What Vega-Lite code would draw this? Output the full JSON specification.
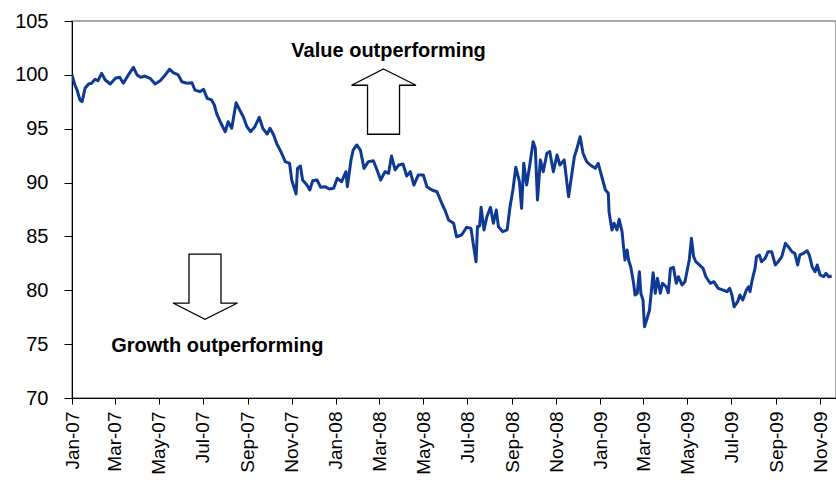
{
  "$schema": "https://vega.github.io/schema/vega-lite/v6.json",
  "width": 764,
  "height": 377,
  "autosize": {"type": "none"},
  "padding": {"left": 72, "top": 21, "right": 0, "bottom": 82},
  "background": "white",
  "config": {
    "view": {"stroke": "#8c8c8c", "strokeWidth": 1.5},
    "font": "Liberation Sans",
    "axis": {"grid": false, "domainColor": "#000000", "tickColor": "#000000", "labelColor": "#000000", "labelFont": "Liberation Sans", "title": null}
  },
  "encoding": {
    "x": {
      "field": "date", "type": "temporal",
      "scale": {"type": "utc", "domain": [{"year": 2007, "month": 1, "date": 1, "utc": true}, {"year": 2009, "month": 11, "date": 23, "utc": true}]},
      "axis": {
        "values": [
          {"year": 2007, "month": 1, "date": 1, "utc": true}, {"year": 2007, "month": 3, "date": 1, "utc": true},
          {"year": 2007, "month": 5, "date": 1, "utc": true}, {"year": 2007, "month": 7, "date": 1, "utc": true},
          {"year": 2007, "month": 9, "date": 1, "utc": true}, {"year": 2007, "month": 11, "date": 1, "utc": true},
          {"year": 2008, "month": 1, "date": 1, "utc": true}, {"year": 2008, "month": 3, "date": 1, "utc": true},
          {"year": 2008, "month": 5, "date": 1, "utc": true}, {"year": 2008, "month": 7, "date": 1, "utc": true},
          {"year": 2008, "month": 9, "date": 1, "utc": true}, {"year": 2008, "month": 11, "date": 1, "utc": true},
          {"year": 2009, "month": 1, "date": 1, "utc": true}, {"year": 2009, "month": 3, "date": 1, "utc": true},
          {"year": 2009, "month": 5, "date": 1, "utc": true}, {"year": 2009, "month": 7, "date": 1, "utc": true},
          {"year": 2009, "month": 9, "date": 1, "utc": true}, {"year": 2009, "month": 11, "date": 1, "utc": true}
        ],
        "format": "%b-%y",
        "labelAngle": -90,
        "labelFontSize": 19,
        "labelPadding": 7,
        "tickSize": 6,
        "labelFlush": false,
        "labelOverlap": false,
        "labelBound": false
      }
    },
    "y": {
      "field": "value", "type": "quantitative",
      "scale": {"domain": [70, 105], "nice": false, "zero": false},
      "axis": {"values": [70, 75, 80, 85, 90, 95, 100, 105], "labelFontSize": 20, "labelPadding": 16, "tickSize": 8}
    }
  },
  "layer": [
    {
      "data": {"values": [
        {"date": "2007-01-01", "value": 100.0}, {"date": "2007-01-05", "value": 99.06}, {"date": "2007-01-08", "value": 98.59},
        {"date": "2007-01-12", "value": 97.67}, {"date": "2007-01-15", "value": 97.51}, {"date": "2007-01-19", "value": 98.75},
        {"date": "2007-01-24", "value": 99.15}, {"date": "2007-01-28", "value": 99.22}, {"date": "2007-02-02", "value": 99.59},
        {"date": "2007-02-06", "value": 99.46}, {"date": "2007-02-11", "value": 100.14}, {"date": "2007-02-16", "value": 99.52},
        {"date": "2007-02-23", "value": 99.15}, {"date": "2007-03-02", "value": 99.68}, {"date": "2007-03-08", "value": 99.77},
        {"date": "2007-03-13", "value": 99.22}, {"date": "2007-03-20", "value": 100.0}, {"date": "2007-03-27", "value": 100.70},
        {"date": "2007-04-01", "value": 99.99}, {"date": "2007-04-06", "value": 99.77}, {"date": "2007-04-12", "value": 99.89},
        {"date": "2007-04-19", "value": 99.68}, {"date": "2007-04-26", "value": 99.15}, {"date": "2007-05-03", "value": 99.46},
        {"date": "2007-05-10", "value": 99.99}, {"date": "2007-05-16", "value": 100.52}, {"date": "2007-05-21", "value": 100.20},
        {"date": "2007-05-28", "value": 99.99}, {"date": "2007-06-02", "value": 99.36}, {"date": "2007-06-09", "value": 99.22},
        {"date": "2007-06-16", "value": 99.27}, {"date": "2007-06-20", "value": 98.59}, {"date": "2007-06-27", "value": 98.44},
        {"date": "2007-07-02", "value": 98.66}, {"date": "2007-07-07", "value": 97.82}, {"date": "2007-07-13", "value": 97.67},
        {"date": "2007-07-17", "value": 97.20}, {"date": "2007-07-20", "value": 96.43}, {"date": "2007-07-25", "value": 95.65},
        {"date": "2007-08-01", "value": 94.72}, {"date": "2007-08-05", "value": 95.65}, {"date": "2007-08-10", "value": 95.04},
        {"date": "2007-08-16", "value": 97.41}, {"date": "2007-08-21", "value": 96.74}, {"date": "2007-08-26", "value": 96.11},
        {"date": "2007-08-31", "value": 95.19}, {"date": "2007-09-05", "value": 94.72}, {"date": "2007-09-11", "value": 95.19},
        {"date": "2007-09-17", "value": 96.06}, {"date": "2007-09-22", "value": 95.04}, {"date": "2007-09-28", "value": 94.51},
        {"date": "2007-10-02", "value": 95.04}, {"date": "2007-10-07", "value": 94.42}, {"date": "2007-10-11", "value": 93.65},
        {"date": "2007-10-17", "value": 92.87}, {"date": "2007-10-23", "value": 91.94}, {"date": "2007-10-29", "value": 91.79},
        {"date": "2007-11-01", "value": 90.24}, {"date": "2007-11-07", "value": 88.94}, {"date": "2007-11-09", "value": 91.32},
        {"date": "2007-11-13", "value": 91.54}, {"date": "2007-11-16", "value": 90.24}, {"date": "2007-11-22", "value": 89.77},
        {"date": "2007-11-26", "value": 89.31}, {"date": "2007-11-30", "value": 90.17}, {"date": "2007-12-06", "value": 90.24},
        {"date": "2007-12-11", "value": 89.56}, {"date": "2007-12-17", "value": 89.62}, {"date": "2007-12-23", "value": 89.40},
        {"date": "2007-12-29", "value": 89.47}, {"date": "2008-01-03", "value": 90.40}, {"date": "2008-01-09", "value": 90.08},
        {"date": "2008-01-15", "value": 91.01}, {"date": "2008-01-17", "value": 89.62}, {"date": "2008-01-22", "value": 92.10},
        {"date": "2008-01-25", "value": 93.02}, {"date": "2008-01-30", "value": 93.49}, {"date": "2008-02-04", "value": 93.02},
        {"date": "2008-02-09", "value": 91.32}, {"date": "2008-02-15", "value": 91.94}, {"date": "2008-02-22", "value": 92.03},
        {"date": "2008-02-27", "value": 91.17}, {"date": "2008-03-03", "value": 90.24}, {"date": "2008-03-09", "value": 91.01},
        {"date": "2008-03-14", "value": 90.86}, {"date": "2008-03-18", "value": 92.47}, {"date": "2008-03-23", "value": 91.17},
        {"date": "2008-03-28", "value": 91.63}, {"date": "2008-04-03", "value": 91.72}, {"date": "2008-04-08", "value": 90.61},
        {"date": "2008-04-13", "value": 91.01}, {"date": "2008-04-18", "value": 89.77}, {"date": "2008-04-24", "value": 90.70},
        {"date": "2008-05-01", "value": 90.70}, {"date": "2008-05-06", "value": 89.62}, {"date": "2008-05-13", "value": 89.31},
        {"date": "2008-05-20", "value": 89.15}, {"date": "2008-05-27", "value": 88.01}, {"date": "2008-05-31", "value": 87.45},
        {"date": "2008-06-05", "value": 86.52}, {"date": "2008-06-12", "value": 86.22}, {"date": "2008-06-16", "value": 84.97},
        {"date": "2008-06-23", "value": 85.13}, {"date": "2008-06-30", "value": 85.85}, {"date": "2008-07-06", "value": 85.75},
        {"date": "2008-07-09", "value": 84.36}, {"date": "2008-07-13", "value": 82.65}, {"date": "2008-07-15", "value": 85.90},
        {"date": "2008-07-18", "value": 85.97}, {"date": "2008-07-20", "value": 87.70}, {"date": "2008-07-24", "value": 85.60},
        {"date": "2008-07-28", "value": 86.83}, {"date": "2008-08-02", "value": 87.70}, {"date": "2008-08-06", "value": 86.22},
        {"date": "2008-08-10", "value": 87.45}, {"date": "2008-08-13", "value": 85.90}, {"date": "2008-08-19", "value": 85.44},
        {"date": "2008-08-25", "value": 85.60}, {"date": "2008-08-29", "value": 87.76}, {"date": "2008-09-02", "value": 89.31},
        {"date": "2008-09-06", "value": 91.42}, {"date": "2008-09-11", "value": 90.08}, {"date": "2008-09-14", "value": 87.61},
        {"date": "2008-09-17", "value": 91.79}, {"date": "2008-09-21", "value": 89.77}, {"date": "2008-09-25", "value": 91.47},
        {"date": "2008-09-30", "value": 93.79}, {"date": "2008-10-03", "value": 93.18}, {"date": "2008-10-06", "value": 88.38},
        {"date": "2008-10-10", "value": 92.10}, {"date": "2008-10-14", "value": 91.01}, {"date": "2008-10-19", "value": 92.72},
        {"date": "2008-10-23", "value": 92.87}, {"date": "2008-10-28", "value": 91.01}, {"date": "2008-11-02", "value": 92.56},
        {"date": "2008-11-06", "value": 91.63}, {"date": "2008-11-12", "value": 92.10}, {"date": "2008-11-18", "value": 88.69},
        {"date": "2008-11-22", "value": 90.54}, {"date": "2008-11-26", "value": 92.40}, {"date": "2008-11-29", "value": 93.02},
        {"date": "2008-12-04", "value": 94.26}, {"date": "2008-12-08", "value": 92.72}, {"date": "2008-12-13", "value": 91.94},
        {"date": "2008-12-18", "value": 91.63}, {"date": "2008-12-25", "value": 91.32}, {"date": "2008-12-29", "value": 91.79},
        {"date": "2009-01-03", "value": 90.54}, {"date": "2009-01-08", "value": 89.31}, {"date": "2009-01-12", "value": 89.00},
        {"date": "2009-01-13", "value": 87.30}, {"date": "2009-01-17", "value": 85.60}, {"date": "2009-01-20", "value": 86.22},
        {"date": "2009-01-24", "value": 85.60}, {"date": "2009-01-27", "value": 86.59}, {"date": "2009-01-31", "value": 85.44},
        {"date": "2009-02-02", "value": 84.05}, {"date": "2009-02-04", "value": 82.81}, {"date": "2009-02-07", "value": 83.74},
        {"date": "2009-02-09", "value": 82.81}, {"date": "2009-02-12", "value": 82.19}, {"date": "2009-02-16", "value": 80.65},
        {"date": "2009-02-18", "value": 79.56}, {"date": "2009-02-21", "value": 79.72}, {"date": "2009-02-24", "value": 81.72},
        {"date": "2009-02-26", "value": 79.72}, {"date": "2009-03-01", "value": 79.10}, {"date": "2009-03-03", "value": 76.62},
        {"date": "2009-03-06", "value": 77.24}, {"date": "2009-03-10", "value": 78.17}, {"date": "2009-03-12", "value": 79.56},
        {"date": "2009-03-15", "value": 81.63}, {"date": "2009-03-18", "value": 79.72}, {"date": "2009-03-21", "value": 81.11},
        {"date": "2009-03-25", "value": 79.72}, {"date": "2009-03-28", "value": 80.65}, {"date": "2009-04-02", "value": 80.33},
        {"date": "2009-04-05", "value": 79.77}, {"date": "2009-04-08", "value": 82.04}, {"date": "2009-04-12", "value": 82.13},
        {"date": "2009-04-16", "value": 80.65}, {"date": "2009-04-19", "value": 81.26}, {"date": "2009-04-24", "value": 80.49},
        {"date": "2009-04-28", "value": 80.80}, {"date": "2009-05-01", "value": 81.82}, {"date": "2009-05-04", "value": 82.81},
        {"date": "2009-05-07", "value": 84.83}, {"date": "2009-05-10", "value": 83.12}, {"date": "2009-05-13", "value": 82.65},
        {"date": "2009-05-18", "value": 82.35}, {"date": "2009-05-23", "value": 82.04}, {"date": "2009-05-27", "value": 81.26},
        {"date": "2009-06-02", "value": 80.65}, {"date": "2009-06-07", "value": 80.80}, {"date": "2009-06-13", "value": 80.18},
        {"date": "2009-06-19", "value": 80.03}, {"date": "2009-06-25", "value": 79.87}, {"date": "2009-06-29", "value": 80.18},
        {"date": "2009-07-02", "value": 79.56}, {"date": "2009-07-05", "value": 78.47}, {"date": "2009-07-10", "value": 78.94},
        {"date": "2009-07-13", "value": 79.56}, {"date": "2009-07-17", "value": 79.10}, {"date": "2009-07-22", "value": 80.03},
        {"date": "2009-07-25", "value": 80.33}, {"date": "2009-07-27", "value": 79.87}, {"date": "2009-07-30", "value": 80.95},
        {"date": "2009-08-03", "value": 82.04}, {"date": "2009-08-05", "value": 83.12}, {"date": "2009-08-09", "value": 83.28},
        {"date": "2009-08-12", "value": 82.65}, {"date": "2009-08-17", "value": 82.97}, {"date": "2009-08-21", "value": 83.58},
        {"date": "2009-08-26", "value": 83.58}, {"date": "2009-08-31", "value": 82.35}, {"date": "2009-09-04", "value": 82.65},
        {"date": "2009-09-09", "value": 83.12}, {"date": "2009-09-14", "value": 84.36}, {"date": "2009-09-18", "value": 84.05},
        {"date": "2009-09-23", "value": 83.58}, {"date": "2009-09-27", "value": 83.43}, {"date": "2009-10-01", "value": 82.35},
        {"date": "2009-10-04", "value": 83.28}, {"date": "2009-10-09", "value": 83.43}, {"date": "2009-10-14", "value": 83.67},
        {"date": "2009-10-17", "value": 83.28}, {"date": "2009-10-21", "value": 82.19}, {"date": "2009-10-25", "value": 81.72},
        {"date": "2009-10-28", "value": 82.35}, {"date": "2009-11-01", "value": 81.42}, {"date": "2009-11-06", "value": 81.26},
        {"date": "2009-11-09", "value": 81.58}, {"date": "2009-11-13", "value": 81.26}, {"date": "2009-11-17", "value": 81.33}
      ]},
      "mark": {"type": "line", "color": "#0f3a93", "strokeWidth": 3, "clip": true, "strokeJoin": "round"}
    },
    {
      "data": {"values": [
        {"date": "2008-03-07", "value": 97.53, "dir": "up"},
        {"date": "2007-07-04", "value": 80.33, "dir": "down"}
      ]},
      "mark": {"type": "point", "filled": true, "size": 4, "fill": "white", "stroke": "black", "strokeWidth": 1.3, "opacity": 1},
      "encoding": {
        "shape": {
          "field": "dir", "type": "nominal",
          "scale": {"domain": ["up", "down"], "range": ["M0,-32.5L32.5,-16.2L16,-16.2L16,32.8L-16,32.8L-16,-16.2L-32,-16.2Z", "M-16,-32.7L16,-32.7L16,16.3L32.5,16.3L0,32.6L-32,16.3L-16,16.3Z"]},
          "legend": null
        }
      }
    },
    {
      "data": {"values": [
        {"date": "2008-03-14", "value": 102.26, "label": "Value outperforming"},
        {"date": "2007-07-21", "value": 74.87, "label": "Growth outperforming"}
      ]},
      "mark": {"type": "text", "font": "Liberation Sans", "fontWeight": "bold", "fontSize": 20, "color": "black", "baseline": "middle", "align": "center"},
      "encoding": {"text": {"field": "label"}}
    }
  ]
}
